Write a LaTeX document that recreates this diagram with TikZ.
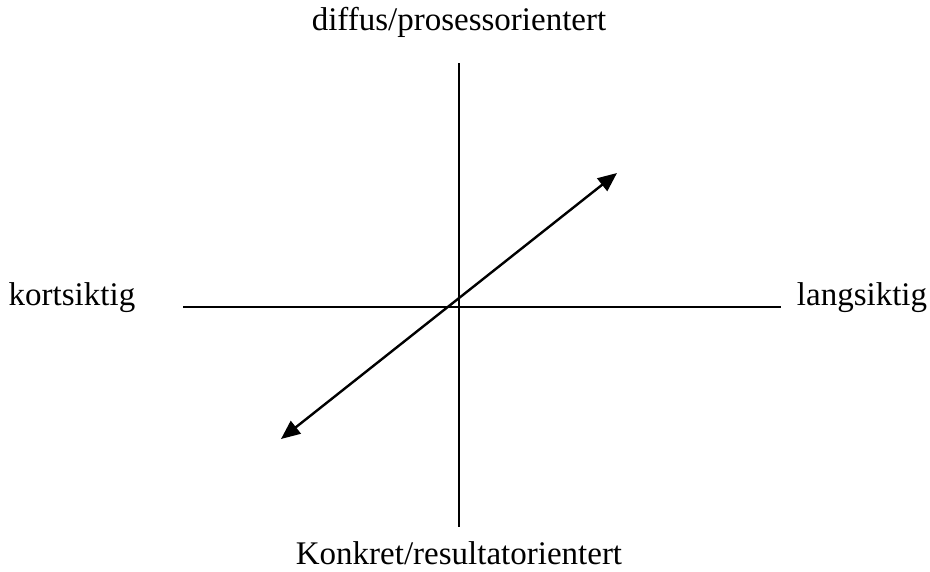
\documentclass[tikz,border=0pt]{standalone}
\usepackage{fontspec}
\setmainfont{Liberation Serif}
\usetikzlibrary{arrows.meta}
\begin{document}
\begin{tikzpicture}[x=1pt,y=-1pt,
  axis/.style={line width=1.8pt},
  dblarrow/.style={line width=2.4pt,{Triangle[length=19pt,width=16pt]}-{Triangle[length=19pt,width=16pt]}},
  lbl/.style={font=\fontsize{33}{38}\selectfont,inner sep=0pt}]
\useasboundingbox (0,0) rectangle (930,571);
\coordinate (vt) at (459,63);
\coordinate (vb) at (459,527);
\coordinate (hl) at (183,307);
\coordinate (hr) at (781,307);
\coordinate (aa) at (281,439);
\coordinate (ab) at (617,173);
\draw[axis] (vt) -- (vb);
\draw[axis] (hl) -- (hr);
\draw[dblarrow] (aa) -- (ab);
\node[lbl] (top) at (459,22) {diffus/prosessorientert};
\node[lbl] (left) at (72,298) {kortsiktig};
\node[lbl] (right) at (862,298) {langsiktig};
\node[lbl] (bot) at (459,553) {Konkret/resultatorientert};
\end{tikzpicture}
\end{document}
